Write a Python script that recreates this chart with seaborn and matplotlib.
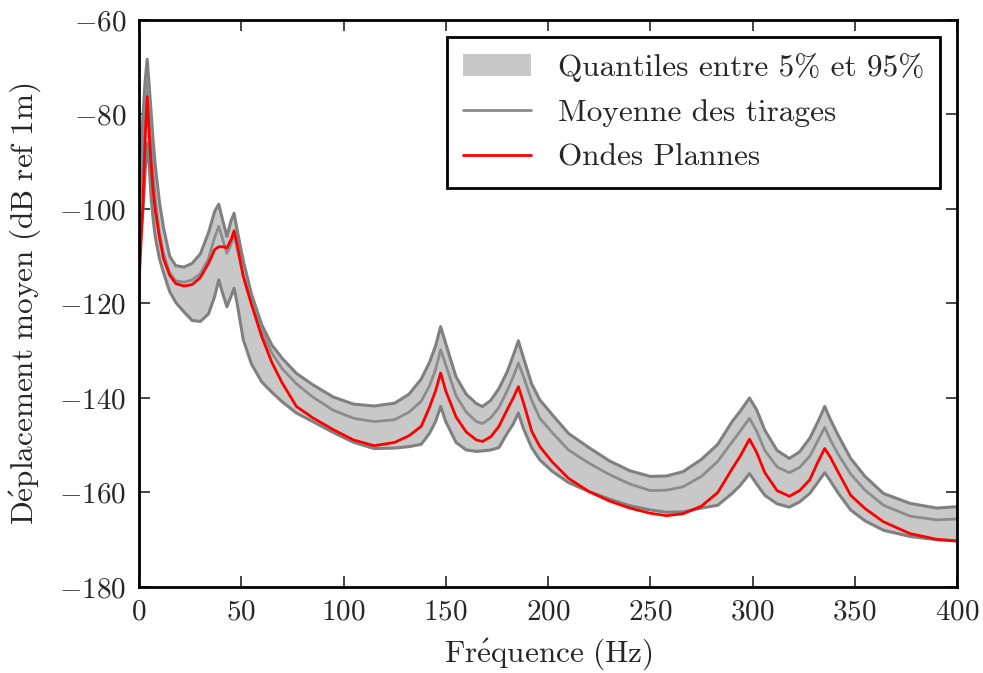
import numpy as np
import pandas as pd
import seaborn as sns
import matplotlib.pyplot as plt

# frequencies (Hz) at which the curves were read
freq = [0, 2, 3, 4, 5, 6, 7, 8, 10, 12, 15, 18, 22, 26, 30, 34, 37, 39, 41, 43, 45, 46.5, 48,
        51, 55, 60, 65, 70, 77, 85, 95, 105, 115, 125, 132, 138, 142, 145, 147.5, 150,
        155, 160, 165, 168, 172, 176, 180, 183, 185.5, 188, 192, 196, 202, 210, 220,
        230, 240, 250, 258, 266, 275, 283, 290, 294, 298.5, 302, 306, 312, 318, 323,
        328, 332, 335.3, 338, 342, 348, 355, 364, 377, 390, 400]

q95 = [-94, -80, -73, -68.3, -74, -80, -86, -91, -98.5, -104, -110, -112, -112.3, -111.5,
       -109.5, -105, -100.5, -99, -102.5, -105.8, -102.5, -100.9, -104.5, -111, -118, -124.5,
       -128.8, -131.6, -134.8, -137.2, -139.8, -141.3, -141.7, -141.1, -139.2, -136, -132.5,
       -129, -124.9, -128.5, -135.5, -139.2, -141.2, -141.8, -140.5, -138, -134.5, -131,
       -127.9, -131.5, -137, -140.4, -143.5, -147.5, -150.5, -153.3, -155.4, -156.6, -156.5,
       -155.6, -153, -149.8, -145, -142.8, -140, -142.5, -146.8, -151.1, -152.8, -151.4,
       -148.5, -145, -141.8, -144.5, -148, -152.8, -156.6, -160.2, -162.3, -163.3, -163.0]

moyenne = [-102, -88, -79, -72.5, -79, -87, -93, -98, -105, -109.5, -113.5, -115.2, -115.5,
           -115, -113.7, -110.5, -106, -103.7, -106.5, -109.4, -107.5, -105.3, -108.5, -114,
           -119.5, -125.8, -130.5, -133.8, -137, -139.8, -142.6, -144.3, -145.0, -144.6,
           -143.0, -140.7, -137.5, -134, -129.8, -133, -139.5, -143, -145, -145.4, -144.2,
           -142, -138.5, -135.5, -132.6, -135.5, -140.5, -144.3, -147.3, -151, -153.8,
           -156.2, -158.2, -159.6, -159.5, -158.8, -156.6, -153.4, -149.3, -147, -144.3,
           -147, -151.1, -154.6, -155.8, -154.7, -152.3, -149, -146.2, -148.8, -152, -156.1,
           -159.5, -162.7, -165, -165.8, -165.6]

ondes = [-116, -98, -85, -76.2, -84, -91, -96.5, -100.5, -106, -110.5, -114, -115.8, -116.3,
         -116, -114.5, -111.5, -108.6, -108, -108, -108.2, -106.5, -104.6, -107.5, -114.3,
         -120.2, -127, -132.5, -136.8, -141.8, -144.2, -146.7, -148.9, -150.1, -149.4, -148,
         -146, -142, -138.5, -134.7, -138.5, -144, -147.2, -148.9, -149.2, -148.2, -146,
         -142.5, -140, -137.6, -141, -147, -150.3, -153.5, -157, -159.8, -161.8, -163.3,
         -164.4, -164.9, -164.5, -162.9, -160, -155, -152.3, -148.7, -151.5, -155.8, -159.6,
         -160.8, -159.6, -157.3, -153.5, -150.7, -152.5, -155.8, -160.6, -163.4, -166.2,
         -168.7, -169.9, -170.3]

q05 = [-110, -100, -92, -86, -91, -98, -102.5, -106, -110.5, -113.5, -117.5, -119.8, -121.8,
       -123.6, -123.8, -122.2, -118.5, -115, -118, -120.7, -118.5, -116.8, -120, -127.7,
       -132.8, -136.6, -138.8, -140.8, -143.2, -145, -147.3, -149.4, -150.7, -150.6, -150.3,
       -149.8, -147.5, -145, -141.8, -145, -149.4, -151, -151.3, -151.2, -151, -150.5,
       -147.5, -145.5, -143.2, -146.5, -150.5, -153.1, -155.5, -157.9, -159.8, -161.4,
       -162.8, -163.7, -164.2, -164.1, -163.3, -162.7, -160.2, -158.5, -156, -158.2, -160.6,
       -162.4, -163.1, -162, -160.2, -157.8, -155.8, -157.5, -160.2, -163.7, -166, -168,
       -169.3, -170, -170.2]

df = pd.DataFrame({"freq": freq, "q95": q95, "moyenne": moyenne, "ondes": ondes, "q05": q05})

sns.set_style("ticks")
plt.rcParams["font.family"] = ["cmr10"]
plt.rcParams["mathtext.fontset"] = "cm"
plt.rcParams["axes.formatter.use_mathtext"] = True
plt.rcParams["axes.unicode_minus"] = True

fig, ax = plt.subplots(figsize=(9.83, 6.73), dpi=100)
fig.subplots_adjust(left=0.1414, right=0.9736, top=0.9703, bottom=0.1278)

ax.fill_between(df["freq"], df["q05"], df["q95"], color="#c8c8c8", lw=0,
                label="Quantiles entre 5% et 95%")
sns.lineplot(data=df, x="freq", y="q95", color="#808080", lw=2.2, ax=ax, legend=False)
sns.lineplot(data=df, x="freq", y="q05", color="#808080", lw=2.2, ax=ax, legend=False)
sns.lineplot(data=df, x="freq", y="moyenne", color="#8c8c8c", lw=2.0, ax=ax,
             label="Moyenne des tirages")
sns.lineplot(data=df, x="freq", y="ondes", color="red", lw=2.0, ax=ax,
             label="Ondes Plannes")

ax.set_xlim(0, 400)
ax.set_ylim(-180, -60)
ax.set_xticks(np.arange(0, 401, 50))
ax.set_yticks(np.arange(-180, -59, 20))
ax.set_xlabel(r"$\mathrm{Fr\acute{e}quence\ (Hz)}$", fontsize=22.5, labelpad=8)
ax.set_ylabel(r"$\mathrm{D\acute{e}placement\ moyen\ (dB\ ref\ 1m)}$", fontsize=22.5, labelpad=12)
ax.tick_params(direction="in", length=8, width=1.2, labelsize=21, top=True, right=True, pad=9)
for s in ax.spines.values():
    s.set_linewidth(2)
    s.set_color("black")

handles, labels = ax.get_legend_handles_labels()
order = [labels.index(l) for l in ["Quantiles entre 5% et 95%", "Moyenne des tirages", "Ondes Plannes"]]
leg = ax.legend([handles[i] for i in order], [labels[i] for i in order], loc="upper right",
                fontsize=22.5, frameon=True, fancybox=False, edgecolor="black", framealpha=1,
                borderpad=0.5, borderaxespad=0.55, handlelength=2.2, handletextpad=0.85,
                labelspacing=0.55)
leg.get_frame().set_linewidth(2)

fig.savefig("out.png", dpi=100)
